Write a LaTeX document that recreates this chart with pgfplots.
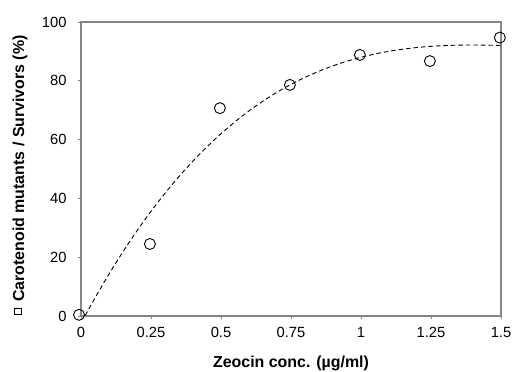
\documentclass[border=0pt]{standalone}
\usepackage{pgfplots}
\pgfplotsset{compat=1.18}
\usepackage{fontspec}
\setmainfont{Liberation Sans}
\definecolor{axgray}{HTML}{868686}
\begin{document}
\begin{tikzpicture}
\begin{axis}[
  scale only axis,
  width=420bp, height=294bp,
  xmin=0, xmax=1.5, ymin=0, ymax=100,
  clip=false,
  axis line style={axgray, line width=1.8bp},
  xtick={0,0.25,0.5,0.75,1,1.25,1.5},
  xticklabels={0,0.25,0.5,0.75,1,1.25,1.5},
  ytick={0,20,40,60,80,100},
  tick align=outside,
  tick pos=left,
  major tick length=3bp,
  tick style={axgray, line width=0.6bp},
  tick label style={font=\fontsize{14.8}{17}\selectfont},
  xticklabel style={yshift=-5bp},
  yticklabel style={xshift=-8bp},
  /pgf/number format/assume math mode=true,
  xlabel={\bfseries Zeocin conc. (µg/ml)},
  ylabel={{\setlength{\fboxsep}{0pt}\setlength{\fboxrule}{0.6bp}\raisebox{3bp}{\fbox{\rule{0pt}{7bp}\rule{5.5bp}{0pt}}}}\hspace{6bp}\bfseries Carotenoid mutants / Survivors (\%)},
  label style={font=\fontsize{16}{18}\selectfont},
  xlabel style={at={(axis description cs:0.5,-0.1616)}, anchor=center},
  ylabel style={at={(axis description cs:-0.145,0.48)}, anchor=center},
]
\addplot[black, line width=0.9bp, dash pattern=on 4.5bp off 3bp, smooth] coordinates {
(0.015,0.15) (0.05,6.15) (0.1,14.27) (0.15,21.87) (0.2,28.98) (0.25,35.59) (0.3,41.74) (0.35,47.44) (0.4,52.71) (0.45,57.55) (0.5,62.0) (0.55,66.06) (0.6,69.75) (0.65,73.09) (0.7,76.10) (0.75,78.78) (0.8,81.16) (0.85,83.26) (0.9,85.09) (0.95,86.66) (1.0,88.0) (1.05,89.12) (1.1,90.03) (1.15,90.76) (1.2,91.32) (1.25,91.72) (1.3,91.98) (1.35,92.13) (1.4,92.17) (1.45,92.12) (1.5,92.0)
};
\addplot[only marks, mark=o, mark size=5.5bp, mark options={black, line width=0.9bp}] coordinates {
(-0.007,0.4) (0.246,24.5) (0.496,70.7) (0.746,78.6) (0.996,88.8) (1.246,86.7) (1.496,94.7)
};
\coordinate (sw) at (rel axis cs:0,0);
\coordinate (ne) at (rel axis cs:1,1);
\end{axis}
\pgfresetboundingbox
\path[use as bounding box] ([shift={(-81bp,-56bp)}]sw) rectangle ([shift={(13bp,22bp)}]ne);
\end{tikzpicture}
\end{document}
